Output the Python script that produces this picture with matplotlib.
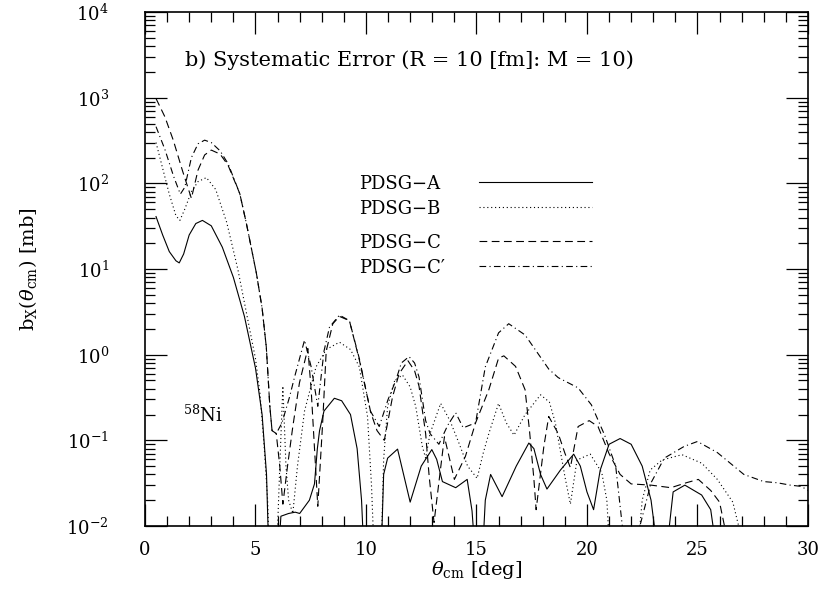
import numpy as np
import matplotlib
matplotlib.use("Agg")
import matplotlib.pyplot as plt
from matplotlib.ticker import MultipleLocator, FixedLocator, NullFormatter

plt.rcParams['font.family'] = ['DejaVu Serif']
plt.rcParams['mathtext.fontset'] = 'dejavuserif'

# PDSG-A (solid)
th_a = [0.5, 0.8, 1.1, 1.4, 1.55, 1.75, 2.0, 2.3, 2.6, 3.0, 3.5, 4.0, 4.5, 5.0, 5.3, 5.5, 5.6,
        6.05, 6.15, 6.5, 6.8, 7.0, 7.44, 7.67, 7.8, 7.9, 8.1, 8.57, 8.9, 9.3, 9.6, 9.8, 9.92,
        10.68, 10.8, 10.98, 11.43, 12.0, 12.5, 12.98, 13.2, 13.46, 14.06, 14.58, 14.8, 14.96,
        15.26, 15.4, 15.64, 16.16, 16.8, 17.37, 17.6, 17.9, 18.19, 18.8, 19.4, 19.7, 20.0, 20.3,
        20.6, 21.0, 21.5, 22.0, 22.5, 22.9, 23.2, 23.6, 23.9, 24.43, 25.19, 25.6, 25.87]
b_a = [41, 25, 16, 12.5, 11.8, 15, 25, 34, 37, 32, 18, 8, 2.8, 0.7, 0.2, 0.04, 0.005,
       0.005, 0.013, 0.014, 0.0145, 0.014, 0.02, 0.031, 0.08, 0.13, 0.22, 0.31, 0.29, 0.2, 0.08, 0.02, 0.004,
       0.004, 0.04, 0.062, 0.079, 0.019, 0.05, 0.078, 0.06, 0.033, 0.028, 0.035, 0.015, 0.004,
       0.004, 0.02, 0.04, 0.022, 0.05, 0.093, 0.08, 0.04, 0.027, 0.045, 0.069, 0.05, 0.025, 0.0155,
       0.045, 0.09, 0.105, 0.09, 0.05, 0.02, 0.005, 0.005, 0.025, 0.030, 0.023, 0.0155, 0.005]

# PDSG-B (dotted)
th_b = [0.5, 0.8, 1.1, 1.4, 1.58, 1.8, 2.1, 2.4, 2.78, 3.2, 3.7, 4.2, 4.6, 5.0, 5.2, 5.4, 5.55, 5.64,
        5.95, 6.1, 6.24, 6.38, 6.5, 6.69, 6.9, 7.22, 7.74, 8.2, 8.8, 9.3, 9.7, 10.07, 10.25, 10.38,
        10.68, 10.8, 10.98, 11.3, 11.65, 12.0, 12.25, 12.55, 12.7, 12.9, 13.38, 13.8, 14.2, 14.6,
        15.03, 15.3, 15.56, 16.0, 16.35, 16.7, 17.2, 17.9, 18.3, 18.57, 19.0, 19.25, 19.55, 20.15,
        20.67, 20.9, 21.05, 22.26, 22.5, 22.86, 23.4, 24.3, 25.2, 25.9, 26.6, 27.15]
b_b = [300, 150, 75, 42, 37, 50, 80, 105, 117, 85, 35, 10, 3.0, 0.9, 0.36, 0.08, 0.02, 0.004,
       0.004, 0.05, 0.43, 0.05, 0.02, 0.014, 0.05, 0.22, 0.72, 1.15, 1.4, 1.15, 0.72, 0.19, 0.03, 0.004,
       0.004, 0.06, 0.25, 0.5, 0.58, 0.42, 0.25, 0.085, 0.062, 0.12, 0.27, 0.17, 0.094, 0.05,
       0.036, 0.07, 0.12, 0.27, 0.16, 0.115, 0.2, 0.34, 0.28, 0.16, 0.038, 0.018, 0.059, 0.069,
       0.042, 0.02, 0.004, 0.004, 0.02, 0.045, 0.059, 0.068, 0.054, 0.035, 0.019, 0.005]

# PDSG-C (dashed)
th_c = [0.5, 0.9, 1.28, 1.7, 2.1, 2.4, 2.7, 3.0, 3.4, 3.76, 4.29, 4.59, 5.04, 5.3, 5.49, 5.65, 5.75,
        5.94, 6.1, 6.24, 6.45, 6.69, 6.99, 7.37, 7.52, 7.82, 8.04, 8.2, 8.5, 8.8, 9.25, 9.7, 10.22,
        10.5, 10.83, 11.2, 11.5, 11.9, 12.2, 12.4, 12.7, 12.86, 13.08, 13.55, 14.0, 14.5, 14.96,
        15.56, 16.0, 16.24, 16.77, 17.2, 17.4, 17.6, 17.7, 18.05, 18.27, 18.7, 19.0, 19.25, 19.6,
        20.1, 20.5, 21.0, 21.5, 22.0, 22.9, 23.8, 24.5, 25.04, 25.6, 26.0, 26.3]
b_c = [980, 600, 320, 140, 67, 143, 215, 245, 220, 163, 76, 34, 9, 3.5, 1.23, 0.25, 0.13,
       0.12, 0.05, 0.018, 0.05, 0.145, 0.47, 1.18, 0.39, 0.017, 0.16, 1.1, 2.3, 2.8, 2.5, 0.87, 0.21,
       0.13, 0.1, 0.32, 0.6, 0.85, 0.65, 0.43, 0.12, 0.038, 0.011, 0.11, 0.035, 0.065, 0.16,
       0.39, 0.91, 0.97, 0.73, 0.39, 0.13, 0.035, 0.0155, 0.085, 0.19, 0.12, 0.071, 0.048, 0.145,
       0.17, 0.145, 0.07, 0.04, 0.031, 0.03, 0.028, 0.032, 0.035, 0.026, 0.019, 0.008]

# PDSG-C' (dash-dot)
th_cp = [0.5, 0.9, 1.3, 1.6, 1.8, 2.1, 2.4, 2.7, 3.0, 3.4, 3.76, 4.29, 4.59, 5.04, 5.3, 5.49, 5.65,
         5.75, 5.94, 6.2, 6.54, 6.77, 7.22, 7.52, 7.82, 8.1, 8.35, 8.8, 9.25, 9.7, 10.2, 10.45, 10.6,
         11.0, 11.35, 11.6, 11.95, 12.2, 12.4, 12.7, 12.9, 13.3, 13.7, 14.06, 14.4, 14.96, 15.4,
         16.0, 16.46, 17.2, 18.27, 18.7, 19.6, 20.2, 20.8, 21.3, 21.6, 22.0, 22.3, 22.9, 23.5,
         24.4, 25.0, 25.9, 27.1, 28.0, 28.6, 29.2, 29.7, 30.0]
b_cp = [460, 250, 120, 75, 90, 200, 290, 320, 300, 240, 170, 76, 34, 9, 3.5, 1.23, 0.25,
        0.13, 0.12, 0.16, 0.32, 0.55, 1.48, 0.72, 0.25, 1.1, 2.1, 2.9, 2.5, 0.9, 0.22, 0.17, 0.145,
        0.3, 0.5, 0.8, 0.95, 0.8, 0.55, 0.17, 0.12, 0.09, 0.15, 0.21, 0.14, 0.16, 0.72,
        1.8, 2.3, 1.7, 0.68, 0.54, 0.41, 0.26, 0.115, 0.05, 0.01, 0.005, 0.008, 0.032, 0.062,
        0.085, 0.097, 0.072, 0.04, 0.033, 0.032, 0.030, 0.029, 0.026]

labels = ['PDSG\u2212A', 'PDSG\u2212B', 'PDSG\u2212C', 'PDSG\u2212C\u2032']
styles = ['-', (0, (1, 2.5)), (0, (7, 4)), (0, (6, 3, 1, 3))]

fig = plt.figure(figsize=(8.2, 5.92), dpi=100)
ax = fig.add_axes([0.1768, 0.1115, 0.8085, 0.868])

lw = 0.8
for th, b, st in zip([th_a, th_b, th_c, th_cp], [b_a, b_b, b_c, b_cp], styles):
    ax.plot(th, b, color='black', lw=lw, ls=st)

ax.set_yscale('log')
ax.set_xlim(0, 30)
ax.set_ylim(1e-2, 1e4)

decades = [10.0 ** k for k in range(-2, 5)]
ax.xaxis.set_major_locator(MultipleLocator(5))
ax.xaxis.set_minor_locator(MultipleLocator(1))
ax.yaxis.set_major_locator(FixedLocator(decades))
ax.yaxis.set_minor_locator(FixedLocator([m * d for d in decades[:-1] for m in range(2, 10)]))
ax.yaxis.set_minor_formatter(NullFormatter())
ax.tick_params(which='both', direction='in', top=True, right=True, width=0.9, labelsize=13)
ax.tick_params(which='major', length=16)
ax.tick_params(which='minor', length=7)
ax.tick_params(axis='x', which='major', pad=11)
ax.tick_params(axis='y', which='major', pad=26)
for s in ax.spines.values():
    s.set_linewidth(1.2)

ax.set_xlabel(r'$\theta_{\rm cm}$ [deg]', fontsize=14, labelpad=0)
ax.set_ylabel(r'b$_{\rm X}$($\theta_{\rm cm}$) [mb]', fontsize=14, labelpad=20)

ax.text(0.06, 0.907, 'b) Systematic Error (R = 10 [fm]: M = 10)', transform=ax.transAxes,
        fontsize=15, va='center', ha='left')
ax.text(0.057, 0.216, r'$^{58}$Ni', transform=ax.transAxes, fontsize=13, va='center', ha='left')

ly = [0.665, 0.616, 0.551, 0.502]
for lab, st, y in zip(labels, styles, ly):
    ax.text(0.323, y, lab, transform=ax.transAxes, fontsize=13, va='center', ha='left')
    ax.plot([0.504, 0.674], [y + 0.004, y + 0.004], transform=ax.transAxes, color='black', lw=lw, ls=st)

fig.savefig('out.png', dpi=100)
